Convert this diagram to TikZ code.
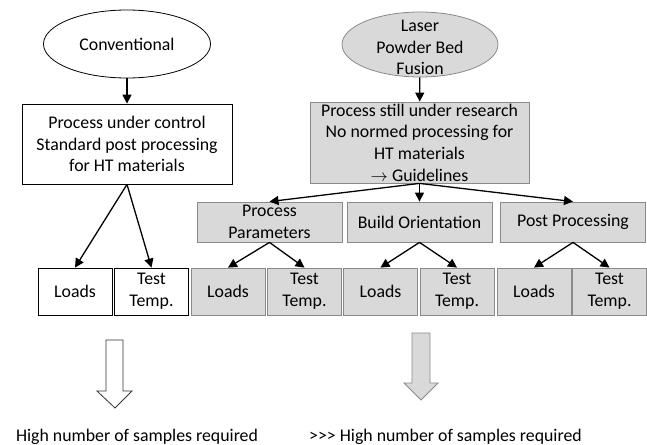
\documentclass[tikz,border=0pt]{standalone}
\usepackage{fontspec}
\setmainfont{Carlito}
\usetikzlibrary{arrows.meta, shapes.geometric}
\definecolor{boxgray}{HTML}{D9D9D9}
\definecolor{rimgray}{HTML}{8A8A8A}

\begin{document}
\begin{tikzpicture}[x=1pt, y=-1pt,
    every node/.style={font=\fontsize{17.8}{21.6}\selectfont, align=center},
    oval/.style={ellipse, draw=black, line width=0.8pt, inner sep=0pt},
    grayoval/.style={oval, draw=rimgray, fill=boxgray},
    box/.style={rectangle, draw=black, line width=0.8pt, inner sep=0pt},
    graybox/.style={box, draw=rimgray, fill=boxgray},
    smallbox/.style={minimum width=74pt, minimum height=47pt},
    midbox/.style={graybox, minimum width=145pt, minimum height=40pt},
    link/.style={-{Triangle[length=9pt, width=9pt]}, line width=1.3pt, black},
    blockarrow/.style={line width=0.8pt, line join=miter}
  ]
  \useasboundingbox (0,0) rectangle (647,444);

  % Conventional branch
  \node[oval, minimum width=167pt, minimum height=68pt] (conv) at (127,44) {Conventional};
  \node[box, minimum width=210pt, minimum height=80pt] (ctrl) at (127,144)
    {Process under control\\Standard post processing\\for HT materials};
  \node[box, smallbox] (lo1) at (75,291.5) {Loads};
  \node[box, smallbox] (tt1) at (151.5,291.5) {Test\\Temp.};

  \draw[link] (conv) -- (ctrl);
  \draw[link] (ctrl.south) -- (lo1.north);
  \draw[link] (ctrl.south) -- (tt1.north);

  % LPBF branch
  \node[grayoval, minimum width=156pt, minimum height=65pt,
    label={[align=center, yshift=-3pt]center:Laser\\Powder Bed\\Fusion}] (lpbf) at (420,44.5) {};
  \node[graybox, minimum width=219pt, minimum height=81pt] (res) at (419.5,142.5)
    {Process still under research\\No normed processing for\\HT materials\\$\rightarrow$ Guidelines};

  \node[midbox] (pp) at (269.5,222) {Process\\Parameters};
  \node[midbox] (bo) at (419.5,222) {Build Orientation};
  \node[midbox] (po) at (573,222) {Post Processing};

  \node[graybox, smallbox] (lo2) at (228,291.5) {Loads};
  \node[graybox, smallbox] (tt2) at (304.5,291.5) {Test\\Temp.};
  \node[graybox, smallbox] (lo3) at (380.5,291.5) {Loads};
  \node[graybox, smallbox] (tt3) at (457,291.5) {Test\\Temp.};
  \node[graybox, smallbox] (lo4) at (534,291.5) {Loads};
  \node[graybox, smallbox] (tt4) at (609.5,291.5) {Test\\Temp.};

  \draw[link] (lpbf) -- (res);
  \draw[link] (res.south) -- (pp.north);
  \draw[link] (res.south) -- (bo.north);
  \draw[link] (res.south) -- (po.north);

  \draw[link] (pp.south) -- (lo2.north);
  \draw[link] (pp.south) -- (tt2.north);
  \draw[link] (bo.south) -- (lo3.north);
  \draw[link] (bo.south) -- (tt3.north);
  \draw[link] (po.south) -- (lo4.north);
  \draw[link] (po.south) -- (tt4.north);

  % Block arrows and results
  \draw[blockarrow, draw=black!80, fill=white]
    (106,340) -- (123,340) -- (123,391) -- (132,391) -- (115,408) -- (97,391) -- (106,391) -- cycle;
  \draw[blockarrow, draw=rimgray, fill=boxgray]
    (412,333) -- (430,333) -- (430,383) -- (438,383) -- (421,400) -- (404,383) -- (412,383) -- cycle;

  \node[anchor=base] (res1) at (137,441) {High number of samples required};
  \node[anchor=base] (res2) at (445.5,441) {{>}{>}{>} High number of samples required};

\end{tikzpicture}
\end{document}
